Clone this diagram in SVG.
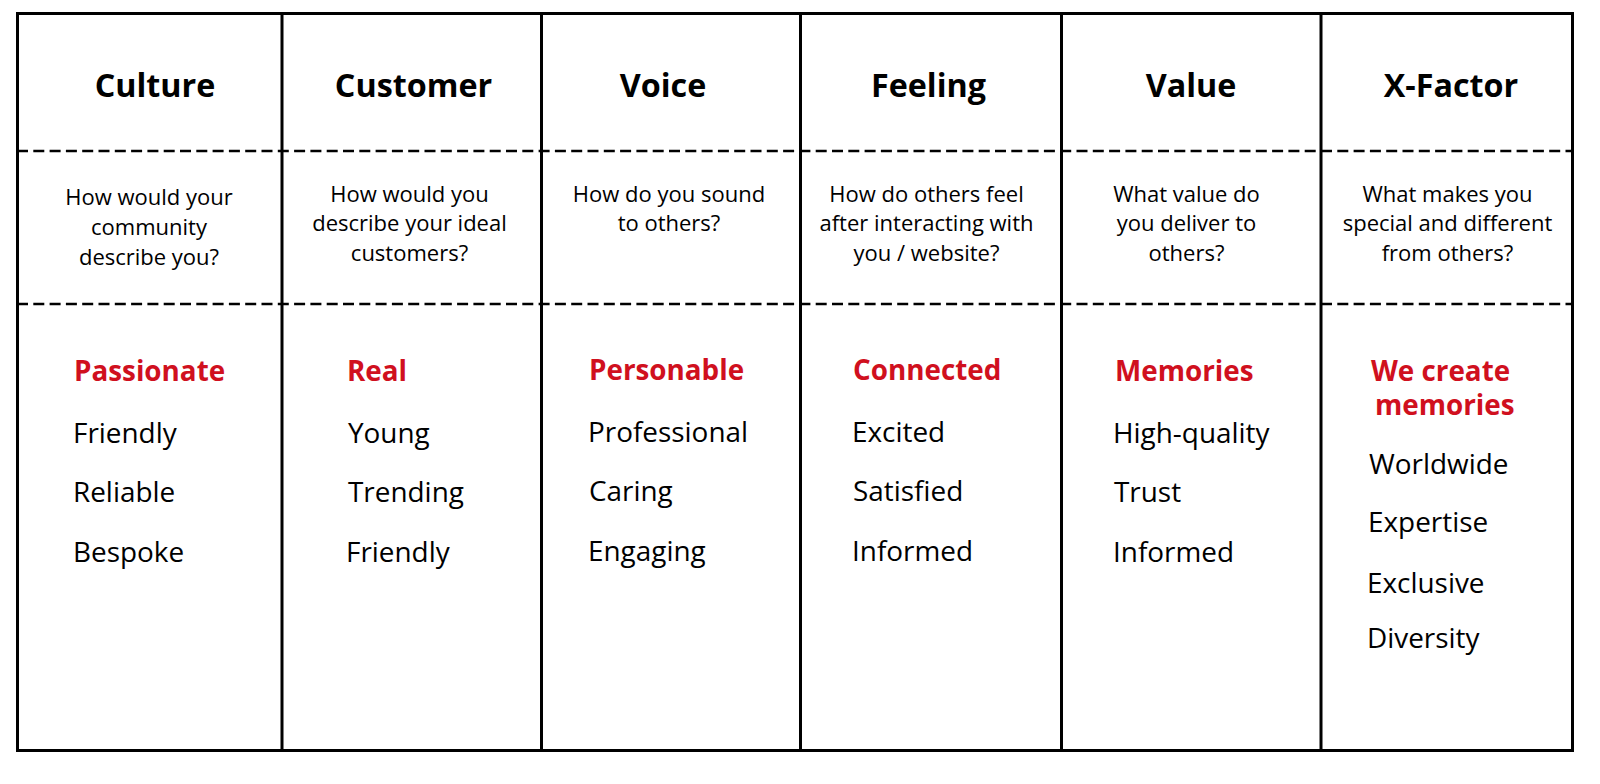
<svg xmlns="http://www.w3.org/2000/svg" width="1600" height="784" viewBox="0 0 1600 784">
<style>
.h{font-family:"Open Sans","Liberation Sans",sans-serif;font-weight:700;font-size:32.3px;fill:#000;text-anchor:middle}
.q{font-family:"Open Sans","Liberation Sans",sans-serif;font-size:22px;fill:#000;text-anchor:middle}
.r{font-family:"Open Sans","Liberation Sans",sans-serif;font-weight:700;font-size:27.8px;fill:#d0101e}
.w{font-family:"Open Sans","Liberation Sans",sans-serif;font-size:27.9px;fill:#000}
.ln{stroke:#000;stroke-width:3;fill:none}
.d{stroke:#000;stroke-width:2.5;stroke-dasharray:11 5.3;fill:none}
</style>
<rect width="1600" height="784" fill="#fff"/>
<g id="grid">
<line class="d" x1="17" y1="151" x2="1573" y2="151"/>
<line class="d" x1="17" y1="304" x2="1573" y2="304"/>
<rect class="ln" x="17.5" y="13.5" width="1555" height="737"/>
<line class="ln" x1="282" y1="13" x2="282" y2="751"/>
<line class="ln" x1="541.5" y1="13" x2="541.5" y2="751"/>
<line class="ln" x1="800.5" y1="13" x2="800.5" y2="751"/>
<line class="ln" x1="1061.5" y1="13" x2="1061.5" y2="751"/>
<line class="ln" x1="1321" y1="13" x2="1321" y2="751"/>
</g>
<g id="col-culture">
<text class="h" x="155" y="97">Culture</text>
<text class="q" x="149" y="205">How would your</text>
<text class="q" x="149" y="235">community</text>
<text class="q" x="149" y="265">describe you?</text>
<text class="r" x="74" y="381">Passionate</text>
<text class="w" x="73" y="443">Friendly</text>
<text class="w" x="73" y="502">Reliable</text>
<text class="w" x="73" y="562">Bespoke</text>
</g>
<g id="col-customer">
<text class="h" x="413.5" y="97">Customer</text>
<text class="q" x="409.5" y="201.5">How would you</text>
<text class="q" x="409.5" y="231">describe your ideal</text>
<text class="q" x="409.5" y="261">customers?</text>
<text class="r" x="347" y="381">Real</text>
<text class="w" x="348" y="443">Young</text>
<text class="w" x="348" y="502">Trending</text>
<text class="w" x="346" y="562">Friendly</text>
</g>
<g id="col-voice">
<text class="h" x="663" y="97">Voice</text>
<text class="q" x="669" y="201.5">How do you sound</text>
<text class="q" x="669" y="231">to others?</text>
<text class="r" x="589" y="380">Personable</text>
<text class="w" x="588" y="442">Professional</text>
<text class="w" x="589" y="501">Caring</text>
<text class="w" x="588" y="561">Engaging</text>
</g>
<g id="col-feeling">
<text class="h" x="928.5" y="97">Feeling</text>
<text class="q" x="926.5" y="201.5">How do others feel</text>
<text class="q" x="926.5" y="231">after interacting with</text>
<text class="q" x="926.5" y="261">you / website?</text>
<text class="r" x="853" y="380">Connected</text>
<text class="w" x="852" y="442">Excited</text>
<text class="w" x="853" y="501">Satisfied</text>
<text class="w" x="852" y="561">Informed</text>
</g>
<g id="col-value">
<text class="h" x="1191" y="97">Value</text>
<text class="q" x="1186.5" y="201.5">What value do</text>
<text class="q" x="1186.5" y="231">you deliver to</text>
<text class="q" x="1186.5" y="261">others?</text>
<text class="r" x="1115" y="381">Memories</text>
<text class="w" x="1113" y="443">High-quality</text>
<text class="w" x="1114" y="502">Trust</text>
<text class="w" x="1113" y="562">Informed</text>
</g>
<g id="col-xfactor">
<text class="h" x="1451" y="97">X-Factor</text>
<text class="q" x="1447.5" y="201.5">What makes you</text>
<text class="q" x="1447.5" y="231">special and different</text>
<text class="q" x="1447.5" y="261">from others?</text>
<text class="r" x="1371" y="381">We create<tspan x="1375" y="415">memories</tspan></text>
<text class="w" x="1369" y="474">Worldwide</text>
<text class="w" x="1368" y="532">Expertise</text>
<text class="w" x="1367" y="593">Exclusive</text>
<text class="w" x="1367" y="648">Diversity</text>
</g>
</svg>
